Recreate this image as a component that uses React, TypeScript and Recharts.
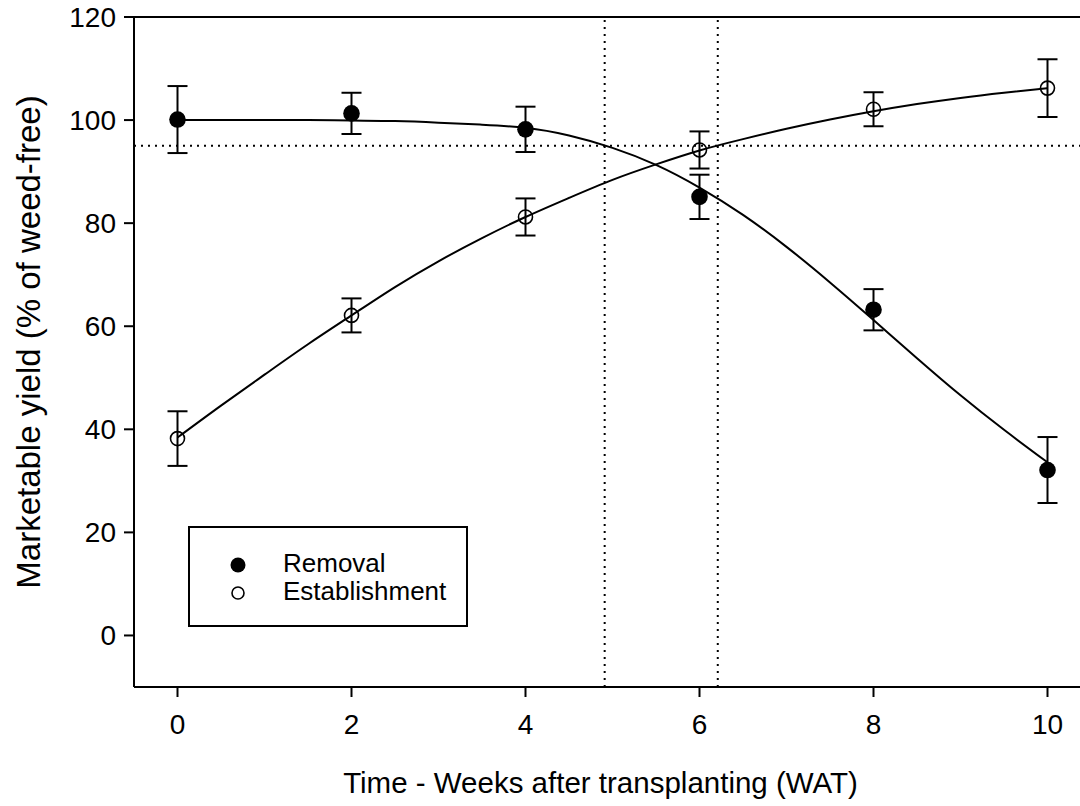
import {
  ComposedChart, Line, Scatter, ErrorBar, XAxis, YAxis, ReferenceLine,
} from "recharts";

const FONT = "'Liberation Sans', Arial, sans-serif";

// observed means ± error, per sampling week
const weeks = [0, 2, 4, 6, 8, 10];
const removalMean = [100.1, 101.3, 98.2, 85.1, 63.2, 32.1];
const removalErr = [6.5, 4.0, 4.4, 4.3, 4.0, 6.4];
const establishMean = [38.2, 62.1, 81.2, 94.2, 102.1, 106.2];
const establishErr = [5.3, 3.3, 3.6, 3.6, 3.3, 5.6];

// fitted curves
const fitWeeks = [0, 0.5, 1, 1.5, 2, 2.5, 3, 3.5, 4, 4.5, 5, 5.5, 6, 6.5, 7, 7.5, 8, 8.5, 9, 9.5, 10];
const removalFit = [100.0, 100.0, 100.0, 100.0, 99.9, 99.8, 99.5, 99.1, 98.5, 97.0, 94.6, 91.3, 86.9, 81.6, 75.4, 68.5, 61.2, 53.8, 46.6, 39.9, 33.6];
const establishFit = [38.4, 44.6, 50.6, 56.5, 62.1, 67.6, 72.6, 77.1, 81.2, 84.9, 88.4, 91.4, 94.1, 96.3, 98.3, 100.1, 101.7, 103.1, 104.3, 105.3, 106.2];

const xTicks = [0, 2, 4, 6, 8, 10];
const yTicks = [0, 20, 40, 60, 80, 100, 120];
const thresholdYield = 95;
const periodStart = 4.91;
const periodEnd = 6.21;

const removalPts = weeks.map((x, i) => ({ x, y: removalMean[i], err: removalErr[i] }));
const establishPts = weeks.map((x, i) => ({ x, y: establishMean[i], err: establishErr[i] }));
const removalCurve = fitWeeks.map((x, i) => ({ x, y: removalFit[i] }));
const establishCurve = fitWeeks.map((x, i) => ({ x, y: establishFit[i] }));

const FilledDot = (p: any) => <circle cx={p.cx} cy={p.cy} r={8.3} fill="#000" />;
const OpenDot = (p: any) => <circle cx={p.cx} cy={p.cy} r={7} fill="none" stroke="#000" strokeWidth={1.6} />;

const tickStyle = { fontSize: 28, fill: "#000", fontFamily: FONT };

function XTitle({ viewBox }: any) {
  return (
    <text x={viewBox.x + viewBox.width / 2 - 12} y={793} textAnchor="middle" fontSize={29.5} fontFamily={FONT} fill="#000">
      Time - Weeks after transplanting (WAT)
    </text>
  );
}

function YTitle({ viewBox }: any) {
  const cx = 28;
  const cy = viewBox.y + viewBox.height / 2 - 10;
  return (
    <text x={cx} y={cy} transform={`rotate(-90 ${cx} ${cy})`} textAnchor="middle" dominantBaseline="central" fontSize={33} fontFamily={FONT} fill="#000">
      Marketable yield (% of weed-free)
    </text>
  );
}

export default function App() {
  return (
    <div style={{ position: "fixed", left: 0, top: 0, width: 1080, height: 806, overflow: "hidden", background: "#fff" }}>
      <ComposedChart width={1100} height={806} margin={{ top: 17, right: 9, bottom: 0, left: 0 }}>
        <XAxis
          dataKey="x" type="number" domain={[-0.5, 10.5]} ticks={xTicks} allowDataOverflow
          height={119} tick={tickStyle} tickSize={10} tickMargin={17}
          axisLine={{ stroke: "#000", strokeWidth: 2 }} tickLine={{ stroke: "#000", strokeWidth: 2 }}
          label={<XTitle />}
        />
        <YAxis
          type="number" domain={[-10, 120]} ticks={yTicks} allowDataOverflow
          width={134} tick={tickStyle} tickSize={10} tickMargin={8}
          axisLine={{ stroke: "#000", strokeWidth: 2 }} tickLine={{ stroke: "#000", strokeWidth: 2 }}
          label={<YTitle />}
        />
        <ReferenceLine y={120} stroke="#000" strokeWidth={2} />
        <ReferenceLine y={thresholdYield} stroke="#000" strokeWidth={2} strokeDasharray="2 5" />
        <ReferenceLine x={periodStart} stroke="#000" strokeWidth={2} strokeDasharray="2 5" />
        <ReferenceLine x={periodEnd} stroke="#000" strokeWidth={2} strokeDasharray="2 5" />
        <Line data={removalCurve} dataKey="y" type="natural" stroke="#000" strokeWidth={2} dot={false} activeDot={false} isAnimationActive={false} />
        <Line data={establishCurve} dataKey="y" type="natural" stroke="#000" strokeWidth={2} dot={false} activeDot={false} isAnimationActive={false} />
        <Scatter data={removalPts} dataKey="y" shape={FilledDot} isAnimationActive={false}>
          <ErrorBar dataKey="err" direction="y" width={10} stroke="#000" strokeWidth={2} isAnimationActive={false} />
        </Scatter>
        <Scatter data={establishPts} dataKey="y" shape={OpenDot} isAnimationActive={false}>
          <ErrorBar dataKey="err" direction="y" width={10} stroke="#000" strokeWidth={2} isAnimationActive={false} />
        </Scatter>
      </ComposedChart>

      <div style={{ position: "absolute", left: 188, top: 526, width: 276, height: 97, border: "2px solid #000", background: "#fff", fontFamily: FONT, fontSize: 26, color: "#000" }}>
        <svg width={30} height={60} style={{ position: "absolute", left: 33, top: 22 }}>
          <circle cx={15} cy={15} r={7.5} fill="#000" />
          <circle cx={15} cy={43} r={6} fill="none" stroke="#000" strokeWidth={1.6} />
        </svg>
        <div style={{ position: "absolute", left: 93, top: 21, lineHeight: "28px" }}>
          <div>Removal</div>
          <div>Establishment</div>
        </div>
      </div>
    </div>
  );
}
